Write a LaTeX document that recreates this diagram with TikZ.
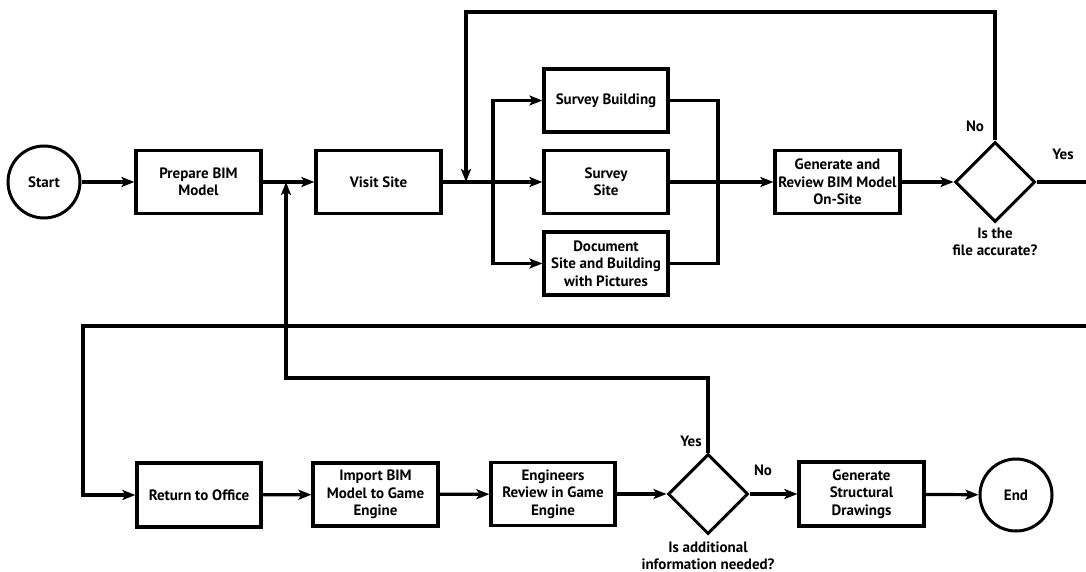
\documentclass[tikz,border=0pt]{standalone}
\usepackage{fontspec}
\setmainfont{PT Sans}
\usetikzlibrary{shapes.geometric,arrows.meta}
\begin{document}
\begin{tikzpicture}[x=1pt,y=-1pt,
  every node/.style={font=\bfseries\fontsize{15}{17.5}\selectfont},
  proc/.style={draw,line width=3.2pt,rectangle,minimum width=#1,minimum height=63pt,inner sep=0pt,align=center},
  proc/.default=125pt,
  term/.style={draw,line width=3pt,circle,minimum size=72pt,inner sep=0pt},
  dec/.style={draw,line width=3pt,diamond,minimum width=80pt,minimum height=80pt,inner sep=0pt},
  lbl/.style={align=center,inner sep=0pt},
  conn/.style={line width=3.2pt},
  arr/.style={conn,-{Stealth[length=13pt,width=10pt,inset=3pt]}}]
\useasboundingbox (0,0) rectangle (1086,572);
% top row
\node[term] (start) at (44,182) {Start};
\node[proc] (prep) at (198.5,182) {Prepare BIM\\Model};
\node[proc] (visit) at (378.5,182) {Visit Site};
\node[proc=124pt] (sb) at (606,100.5) {Survey Building};
\node[proc=124pt] (ss) at (606,182) {Survey\\Site};
\node[proc=124pt] (doc) at (606,263.5) {Document\\Site and Building\\with Pictures};
\node[proc] (gen) at (837.5,182) {Generate and\\Review BIM Model\\On-Site};
\node[dec] (d1) at (995,182) {};
\node[lbl] at (975,126) {No};
\node[lbl] at (1063,154) {Yes};
\node[lbl] (q1) at (995,242) {Is the\\file accurate?};
% bottom row
\node[proc=124pt,minimum height=64pt] (ret) at (199,495) {Return to Office};
\node[proc] (imp) at (375.5,494.5) {Import BIM\\Model to Game\\Engine};
\node[proc=124pt] (eng) at (553,494) {Engineers\\Review in Game\\Engine};
\node[dec] (d2) at (708,494) {};
\node[lbl] at (691,441) {Yes};
\node[lbl] at (763,470) {No};
\node[lbl] (q2) at (708,556) {Is additional\\information needed?};
\node[proc,minimum height=64pt] (sd) at (861.5,494) {Generate\\Structural\\Drawings};
\node[term] (end) at (1016,495) {End};
% coordinates
\coordinate (j1) at (286,182);
\coordinate (j2) at (466,182);
\coordinate (br) at (493,182);
\coordinate (mg) at (718,182);
\coordinate (top) at (995,12);
\coordinate (lp) at (708,378);
\coordinate (r1) at (1088,182);
\coordinate (r2) at (1088,326);
\coordinate (l2) at (83,326);
% connectors
\draw[arr] (start) -- (prep);
\draw[arr] (prep) -- (visit);
\draw[arr] (visit) -- (ss);
\draw[arr] (br) |- (sb.west);
\draw[arr] (br) |- (doc.west);
\draw[conn] (sb.east) -| (mg) |- (doc.east);
\draw[arr] (ss) -- (gen);
\draw[arr] (gen) -- (d1);
\draw[arr] (d1.north) -- (top) -| (j2);
\draw[conn] (d1.east) -- (r1);
\draw[arr] (r2) -- (l2) |- (ret.west);
\draw[arr] (ret) -- (imp);
\draw[arr] (imp) -- (eng);
\draw[arr] (eng) -- (d2);
\draw[arr] (d2.north) -- (lp) -| (j1);
\draw[arr] (d2) -- (sd);
\draw[arr] (sd) -- (end);
\end{tikzpicture}
\end{document}
